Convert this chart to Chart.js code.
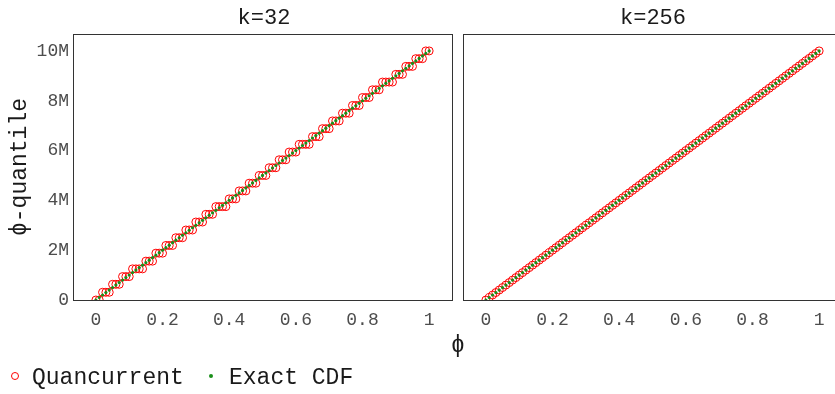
<!DOCTYPE html>
<html>
<head>
<meta charset="utf-8">
<script src="https://cdn.jsdelivr.net/npm/chart.js@4.4.1/dist/chart.umd.min.js"></script>
<style>
  html, body { margin:0; padding:0; background:#fff; width:835px; height:394px; overflow:hidden; }
  body { position:relative; font-family:"Liberation Mono", monospace; }
  canvas { position:absolute; top:0; }
  .txt { position:absolute; white-space:nowrap; color:#1a1a1a; line-height:1; }
  .ptitle { font-size:22px; transform:translate(-50%,-50%); color:#1a1a1a; }
  .legend { font-size:23px; color:#1a1a1a; }
  .mk { position:absolute; border-radius:50%; box-sizing:border-box; }
</style>
</head>
<body>
<canvas id="c1" width="458" height="340" style="left:0;width:458px;height:340px"></canvas>
<canvas id="c2" width="390" height="340" style="left:458px;width:390px;height:340px"></canvas>

<div class="txt ptitle" style="left:264px;top:19px">k=32</div>
<div class="txt ptitle" style="left:653px;top:19px">k=256</div>
<div class="txt" style="left:20px;top:167px;font-size:23px;transform:translate(-50%,-50%) rotate(-90deg);">ϕ-quantile</div>
<div class="txt" style="left:458px;top:346px;font-size:23px;transform:translate(-50%,-50%);">ϕ</div>

<div class="mk" style="left:11px;top:372px;width:8px;height:8px;border:1px solid #ff0000;"></div>
<div class="txt legend" style="left:32px;top:367px;">Quancurrent</div>
<div class="mk" style="left:209px;top:374px;width:4px;height:4px;background:#1a8f1a;"></div>
<div class="txt legend" style="left:229px;top:367px;">Exact CDF</div>

<script>
// phi values (x)
const phi = [0,0.01,0.02,0.03,0.04,0.05,0.06,0.07,0.08,0.09,
  0.10,0.11,0.12,0.13,0.14,0.15,0.16,0.17,0.18,0.19,
  0.20,0.21,0.22,0.23,0.24,0.25,0.26,0.27,0.28,0.29,
  0.30,0.31,0.32,0.33,0.34,0.35,0.36,0.37,0.38,0.39,
  0.40,0.41,0.42,0.43,0.44,0.45,0.46,0.47,0.48,0.49,
  0.50,0.51,0.52,0.53,0.54,0.55,0.56,0.57,0.58,0.59,
  0.60,0.61,0.62,0.63,0.64,0.65,0.66,0.67,0.68,0.69,
  0.70,0.71,0.72,0.73,0.74,0.75,0.76,0.77,0.78,0.79,
  0.80,0.81,0.82,0.83,0.84,0.85,0.86,0.87,0.88,0.89,
  0.90,0.91,0.92,0.93,0.94,0.95,0.96,0.97,0.98,0.99,1.00];

// Exact CDF quantiles (millions)
const exactCDF = [0,0.1,0.2,0.3,0.4,0.5,0.6,0.7,0.8,0.9,
  1.0,1.1,1.2,1.3,1.4,1.5,1.6,1.7,1.8,1.9,
  2.0,2.1,2.2,2.3,2.4,2.5,2.6,2.7,2.8,2.9,
  3.0,3.1,3.2,3.3,3.4,3.5,3.6,3.7,3.8,3.9,
  4.0,4.1,4.2,4.3,4.4,4.5,4.6,4.7,4.8,4.9,
  5.0,5.1,5.2,5.3,5.4,5.5,5.6,5.7,5.8,5.9,
  6.0,6.1,6.2,6.3,6.4,6.5,6.6,6.7,6.8,6.9,
  7.0,7.1,7.2,7.3,7.4,7.5,7.6,7.7,7.8,7.9,
  8.0,8.1,8.2,8.3,8.4,8.5,8.6,8.7,8.8,8.9,
  9.0,9.1,9.2,9.3,9.4,9.5,9.6,9.7,9.8,9.9,10.0];

// Quancurrent estimates, k=32 (millions)
const quancurrentK32 = [0,0,0.31,0.31,0.31,0.63,0.63,0.63,0.94,0.94,
  0.94,1.25,1.25,1.25,1.25,1.56,1.56,1.56,1.88,1.88,
  1.88,2.19,2.19,2.19,2.5,2.5,2.5,2.81,2.81,2.81,
  3.13,3.13,3.13,3.44,3.44,3.44,3.75,3.75,3.75,3.75,
  4.06,4.06,4.06,4.38,4.38,4.38,4.69,4.69,4.69,5.0,
  5.0,5.0,5.31,5.31,5.31,5.63,5.63,5.63,5.94,5.94,
  5.94,6.25,6.25,6.25,6.25,6.56,6.56,6.56,6.88,6.88,
  6.88,7.19,7.19,7.19,7.5,7.5,7.5,7.81,7.81,7.81,
  8.13,8.13,8.13,8.44,8.44,8.44,8.75,8.75,8.75,8.75,
  9.06,9.06,9.06,9.38,9.38,9.38,9.69,9.69,9.69,10.0,10.0];

// Quancurrent estimates, k=256 (millions)
const quancurrentK256 = [0,0.1,0.2,0.3,0.4,0.5,0.6,0.7,0.8,0.9,
  1.0,1.1,1.2,1.3,1.4,1.5,1.6,1.7,1.8,1.9,
  2.0,2.1,2.2,2.3,2.4,2.5,2.6,2.7,2.8,2.9,
  3.0,3.1,3.2,3.3,3.4,3.5,3.6,3.7,3.8,3.9,
  4.0,4.1,4.2,4.3,4.4,4.5,4.6,4.7,4.8,4.9,
  5.0,5.1,5.2,5.3,5.4,5.5,5.6,5.7,5.8,5.9,
  6.0,6.1,6.2,6.3,6.4,6.5,6.6,6.7,6.8,6.9,
  7.0,7.1,7.2,7.3,7.4,7.5,7.6,7.7,7.8,7.9,
  8.0,8.1,8.2,8.3,8.4,8.5,8.6,8.7,8.8,8.9,
  9.0,9.1,9.2,9.3,9.4,9.5,9.6,9.7,9.8,9.9,10.0];

const xTicks = [0,0.2,0.4,0.6,0.8,1];
const xTickLabels = ['0','0.2','0.4','0.6','0.8','1'];
const yTicks = [0,2,4,6,8,10];
const yTickLabels = ['0','2M','4M','6M','8M','10M'];

const FONT = '"Liberation Mono", monospace';

const framePlugin = {
  id:'frame',
  afterDraw(chart){
    const a = chart.chartArea, ctx = chart.ctx;
    ctx.save();
    ctx.strokeStyle = '#333333';
    ctx.lineWidth = 1;
    ctx.strokeRect(Math.round(a.left)+0.5, Math.round(a.top)+0.5, Math.round(a.right-a.left)-1, Math.round(a.bottom-a.top));
    ctx.restore();
  }
};

function pts(xs, ys){ return xs.map((x,i)=>({x:x, y:ys[i]})); }

function makeChart(id, quan, showY, yWidth, padRight){
  return new Chart(document.getElementById(id), {
    type:'scatter',
    data:{ datasets:[
      { label:'Quancurrent', data:pts(phi, quan), order:2,
        pointStyle:'circle', pointRadius:4, pointBorderWidth:1,
        pointBorderColor:'#ff0000', pointBackgroundColor:'rgba(0,0,0,0)' },
      { label:'Exact CDF', data:pts(phi, exactCDF), order:1,
        pointStyle:'circle', pointRadius:1.6, pointBorderWidth:0,
        pointBorderColor:'#1a8f1a', pointBackgroundColor:'#1a8f1a' }
    ]},
    options:{
      responsive:false, animation:false, devicePixelRatio:1,
      layout:{ padding:{ top:34, left:0, right:padRight, bottom:0 } },
      plugins:{ legend:{display:false}, tooltip:{enabled:false}, title:{display:false} },
      scales:{
        x:{ type:'linear', min:-0.0687, max:1.0716,
            grid:{display:false, drawTicks:false, tickLength:0}, border:{display:false},
            afterBuildTicks(s){ s.ticks = xTicks.map(v=>({value:v})); },
            afterFit(s){ s.height = 40; },
            ticks:{ padding:9, color:'#4d4d4d', font:{family:FONT, size:18},
                    callback:(v)=>{ const i = xTicks.indexOf(v); return i>=0 ? xTickLabels[i] : ''; } } },
        y:{ type:'linear', min:0, max:10.68,
            grid:{display:false, drawTicks:false, tickLength:0}, border:{display:false},
            afterBuildTicks(s){ s.ticks = yTicks.map(v=>({value:v})); },
            afterFit(s){ s.width = yWidth; },
            ticks:{ display:showY, padding:4, color:'#4d4d4d', font:{family:FONT, size:18},
                    callback:(v)=>{ const i = yTicks.indexOf(v); return i>=0 ? yTickLabels[i] : ''; } } }
      }
    },
    plugins:[framePlugin]
  });
}

makeChart('c1', quancurrentK32, true, 73, 3);
makeChart('c2', quancurrentK256, false, 4, 4);
</script>
</body>
</html>
